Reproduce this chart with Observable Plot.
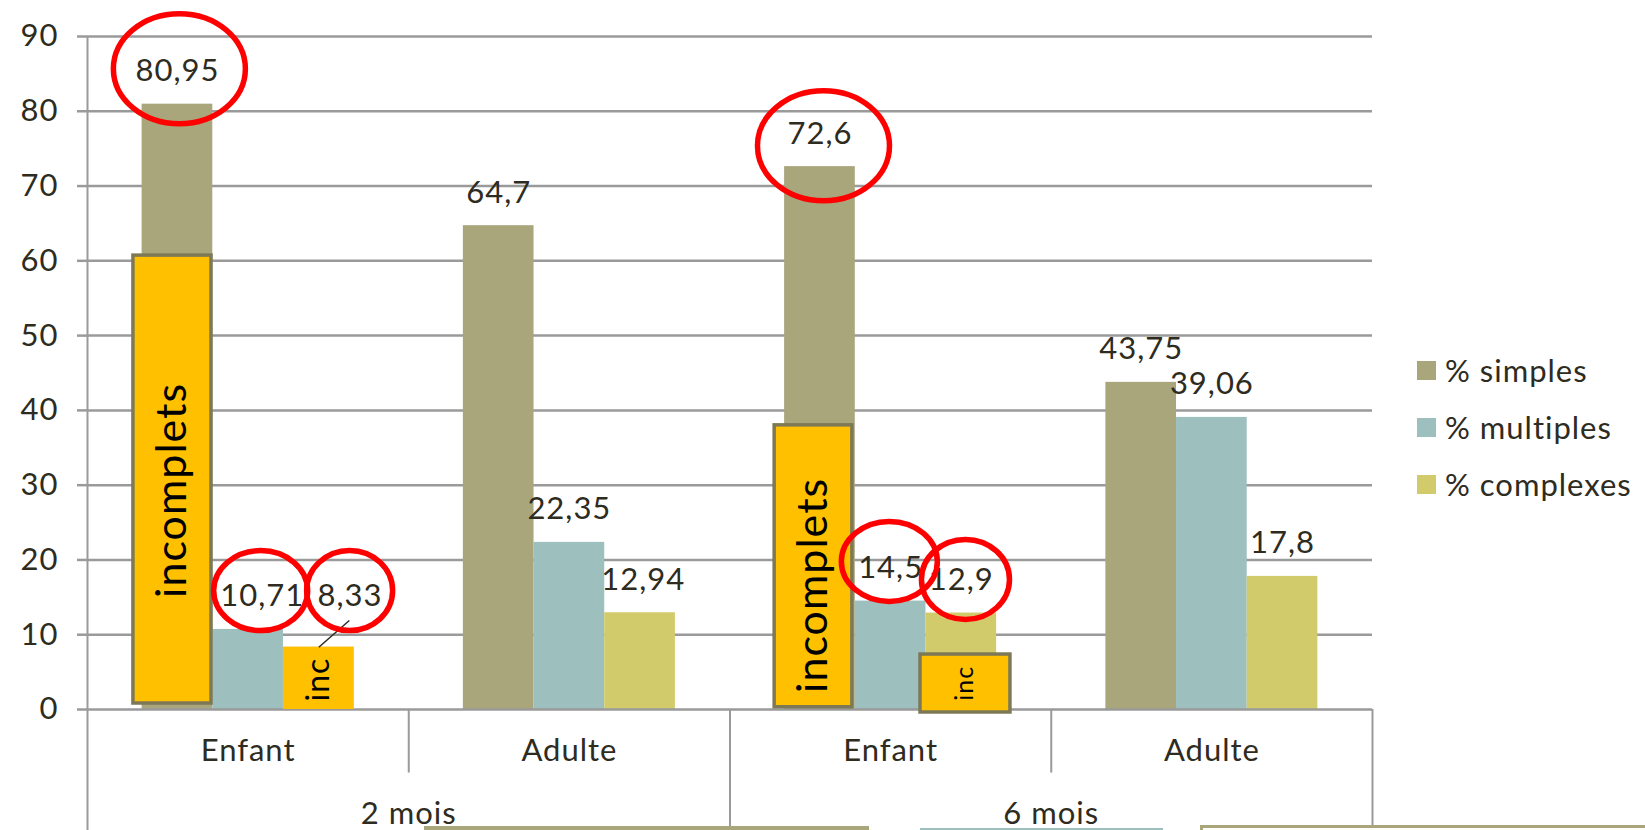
<!DOCTYPE html>
<html><head><meta charset="utf-8">
<script src="https://cdn.jsdelivr.net/npm/d3@7"></script>
<script src="https://cdn.jsdelivr.net/npm/@observablehq/plot@0.6"></script>
<style>
html,body{margin:0;padding:0;background:#fff;}
#wrap{position:relative;width:1645px;height:830px;overflow:hidden;font-family:Lato,"Liberation Sans",sans-serif;color:#2e2b20;}
#chart{position:absolute;left:0;top:0;}
.legend{position:absolute;left:1417px;top:0;font-size:31px;letter-spacing:1px;}
.legend .item{position:absolute;left:0;white-space:nowrap;display:flex;align-items:center;height:40px;}
.legend .sw{width:19px;height:19px;margin-right:9px;}
.deco{position:absolute;box-sizing:border-box;}
</style></head><body><div id="wrap"><div id="chart"></div></div>
<script>
// ---- data ----
const periods = ["2 mois", "6 mois"];
const groups = ["Enfant", "Adulte"];
const series = ["% simples", "% multiples", "% complexes"];
const simples = [80.95, 64.7, 72.6, 43.75];
const multiples = [10.71, 22.35, 14.5, 39.06];
const complexes = [8.33, 12.94, 12.9, 17.8];
const yTicks = [0, 10, 20, 30, 40, 50, 60, 70, 80, 90];
const colors = ["#A9A67C", "#9DBFBE", "#D2CB6C"];

// annotations (category index i, series index j)
const incomplete = [
  {i: 0, j: 0, lo: 0.8, hi: 60.7, text: "incomplets", textY: 29.3},
  {i: 2, j: 0, lo: 0.3, hi: 38.0, text: "incomplets", textY: 16.6},
  {i: 2, j: 2, lo: -0.4, hi: 7.35, text: "inc", textY: 3.5}
];
const incFill = [{i: 0, j: 2, lo: 0, hi: 8.33, text: "inc", textY: 4.0}];
const labelMoves = [{i: 0, j: 1, shift: 0.044}, {i: 0, j: 2, shift: 0.097, at: 10.71}, {i: 1, j: 2, shift: 0.01}];
const circled = [
  {i: 0, j: 0, shift: 0.006, at: 85.7, rx: 66, ry: 55},
  {i: 0, j: 1, shift: 0.039, at: 15.9, rx: 47, ry: 40},
  {i: 0, j: 2, shift: 0.096, at: 15.9, rx: 43, ry: 40},
  {i: 2, j: 0, shift: 0.011, at: 75.4, rx: 66, ry: 55},
  {i: 2, j: 1, shift: -0.004, at: 19.8, rx: 48, ry: 40},
  {i: 2, j: 2, shift: 0.013, at: 17.4, rx: 44, ry: 40}
];

// ---- layout helpers (category units) ----
const PAD = 0.17, BW = 0.22;
const cats = periods.flatMap(p => groups.map(g => ({period: p, group: g})));
const vals = [simples, multiples, complexes];
const rows = cats.flatMap((c, i) => series.map((s, j) => ({
  i, j, serie: s, value: vals[j][i],
  x1: i + PAD + j * BW, x2: i + PAD + (j + 1) * BW, xc: i + PAD + (j + 0.5) * BW
})));
const barOf = (i, j) => rows.find(r => r.i === i && r.j === j);
const fmt = v => String(v).replace(".", ",");
const labels = rows.map(r => {
  const m = labelMoves.find(d => d.i === r.i && d.j === r.j);
  return {x: r.xc + (m ? m.shift : 0), y: m && m.at != null ? m.at : r.value, text: fmt(r.value)};
});
const ellipse = (rx, ry) => ({draw(ctx) {
  const k = 0.5522847498;
  ctx.moveTo(rx, 0);
  ctx.bezierCurveTo(rx, ry * k, rx * k, ry, 0, ry);
  ctx.bezierCurveTo(-rx * k, ry, -rx, ry * k, -rx, 0);
  ctx.bezierCurveTo(-rx, -ry * k, -rx * k, -ry, 0, -ry);
  ctx.bezierCurveTo(rx * k, -ry, rx, -ry * k, rx, 0);
  ctx.closePath();
}});
const boxRows = incomplete.map(b => ({...b}));
const boxX = [ // box edges relative to bar
  {l: -0.027, r: -0.004}, {l: -0.031, r: -0.009}, {l: -0.017, r: 0.043}
];
boxRows.forEach((b, k) => { const r = barOf(b.i, b.j); b.x1 = r.x1 + boxX[k].l; b.x2 = r.x2 + boxX[k].r; b.tx = (b.x1 + b.x2) / 2; });
const fillRows = incFill.map(b => { const r = barOf(b.i, b.j); return {...b, x1: r.x1, x2: r.x2, xc: r.xc}; });
const leadBar = barOf(0, 2);
const leader = [{x1: leadBar.xc + 0.095, y1: 11.9, x2: leadBar.xc, y2: leadBar.value}];

const GRID = "#9a9a9a";
const FONT = "Lato, 'Liberation Sans', sans-serif";

const plot = Plot.plot({
  width: 1645, height: 830,
  marginLeft: 87, marginRight: 273, marginTop: 36, marginBottom: 121,
  style: {fontFamily: FONT, fontSize: "31px", color: "#2e2b20", background: "transparent", overflow: "visible", letterSpacing: "1px"},
  x: {domain: [0, 4], axis: null},
  y: {domain: [0, 90], axis: null},
  color: {domain: series, range: colors},
  marks: [
    Plot.ruleY(yTicks.filter(t => t > 0), {stroke: GRID, strokeWidth: 2.5}),
    Plot.rectY(rows, {x1: "x1", x2: "x2", y: "value", fill: "serie"}),
    Plot.ruleY([0], {stroke: GRID, strokeWidth: 2.5}),
    Plot.axisY({ticks: yTicks, tickSize: 10, tickPadding: 19, stroke: GRID, strokeWidth: 2.5, fill: "#2e2b20", fontSize: 31, tickFormat: d => String(d)}),
    Plot.ruleX([0], {y1: 90, y2: -17, stroke: GRID, strokeWidth: 2}),
    Plot.ruleX([1, 3], {y1: 0, y2: -8.5, stroke: GRID, strokeWidth: 2}),
    Plot.ruleX([2, 4], {y1: 0, y2: -17, stroke: GRID, strokeWidth: 2}),
    // orange overlays
    Plot.rect(fillRows, {x1: "x1", x2: "x2", y1: "lo", y2: "hi", fill: "#FFC000"}),
    Plot.rect(boxRows, {x1: "x1", x2: "x2", y1: "lo", y2: "hi", fill: "#FFC000", stroke: "#7d7957", strokeWidth: 3.5}),
    Plot.text(boxRows.filter(b => b.text === "incomplets"), {x: "tx", y: "textY", text: "text", rotate: -90, fontSize: 43, fill: "#000", lineAnchor: "middle"}),
    Plot.text(boxRows.filter(b => b.text === "inc"), {x: "tx", y: "textY", text: "text", rotate: -90, fontSize: 25, fill: "#000", lineAnchor: "middle"}),
    Plot.text(fillRows, {x: "xc", y: "textY", text: "text", rotate: -90, fontSize: 32, fill: "#000", lineAnchor: "middle"}),
    // value labels
    Plot.text(labels, {x: "x", y: "y", text: "text", dy: -33, lineAnchor: "middle", fontSize: 31, fill: "#2e2b20"}),
    Plot.link(leader, {x1: "x1", y1: "y1", x2: "x2", y2: "y2", stroke: "#2e2b20", strokeWidth: 1.5}),
    // red circles
    ...circled.map(c => {
      const r = barOf(c.i, c.j);
      return Plot.dot([{x: r.xc + c.shift, y: c.at}], {x: "x", y: "y", r: 10, symbol: ellipse(c.rx, c.ry), stroke: "#FF0000", strokeWidth: 5.5, fill: "none"});
    }),
    // category axis labels
    Plot.text(cats.map((c, i) => ({x: i + 0.5, label: c.group})), {x: "x", y: () => 0, text: "label", dy: 42, lineAnchor: "middle", fontSize: 31, fill: "#2e2b20"}),
    Plot.text(periods.map((p, k) => ({x: 2 * k + 1, label: p})), {x: "x", y: () => 0, text: "label", dy: 105, lineAnchor: "middle", fontSize: 31, fill: "#2e2b20"})
  ]
});
document.getElementById("chart").appendChild(plot);

// legend
const wrap = document.getElementById("wrap");
const leg = document.createElement("div");
leg.className = "legend";
const legY = [370, 427, 484];
series.forEach((s, k) => {
  const it = document.createElement("div");
  it.className = "item";
  it.style.top = (legY[k] - 20) + "px";
  it.innerHTML = `<span class="sw" style="background:${colors[k]}"></span><span>${s}</span>`;
  leg.appendChild(it);
});
wrap.appendChild(leg);

// slide fragments at the bottom edge
[
  {left: 424, top: 826, width: 445, height: 6, bg: colors[0]},
  {left: 920, top: 828, width: 243, height: 5, bg: colors[1]},
  {left: 1200, top: 825, width: 460, height: 12, border: "3px solid " + colors[0]}
].forEach(d => {
  const e = document.createElement("div");
  e.className = "deco";
  Object.assign(e.style, {left: d.left + "px", top: d.top + "px", width: d.width + "px", height: d.height + "px", background: d.bg || "#fff", border: d.border || "none"});
  wrap.appendChild(e);
});
</script></body></html>
